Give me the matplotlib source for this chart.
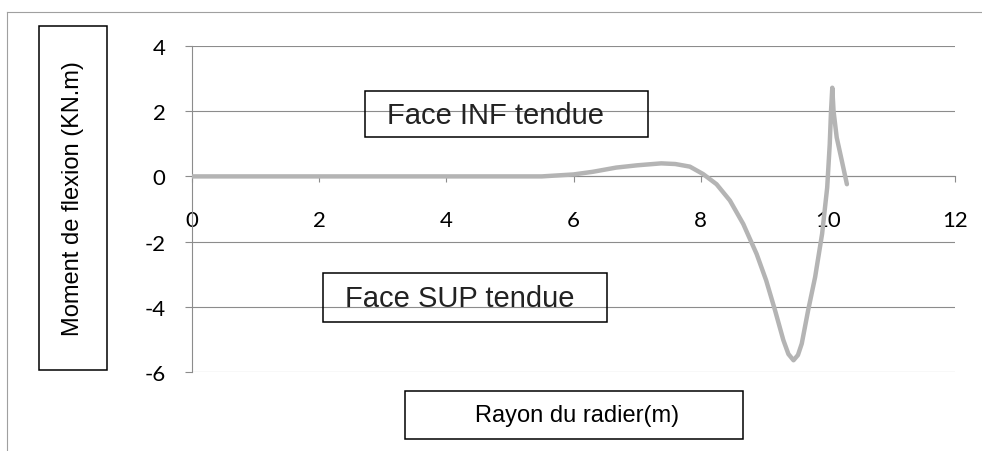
import matplotlib
matplotlib.use("Agg")
import matplotlib.pyplot as plt
from matplotlib.patches import Rectangle
from matplotlib.lines import Line2D

plt.rcParams["axes.unicode_minus"] = False

# Moment de flexion le long du rayon du radier
rayon = [0, 1, 2, 3, 4, 5, 5.5, 6.0, 6.3, 6.67, 7.0, 7.38, 7.6, 7.83, 8.04,
         8.25, 8.46, 8.67, 8.88, 9.03, 9.17, 9.30, 9.38, 9.46, 9.53, 9.59,
         9.69, 9.80, 9.91, 9.99, 10.03, 10.05, 10.07, 10.09, 10.14, 10.22, 10.30]
moment = [0, 0, 0, 0, 0, 0, 0.0, 0.06, 0.14, 0.27, 0.34, 0.40, 0.38, 0.30, 0.07,
          -0.24, -0.74, -1.46, -2.38, -3.19, -4.11, -5.02, -5.45, -5.64, -5.48,
          -5.13, -4.11, -3.09, -1.76, -0.34, 0.99, 2.0, 2.72, 2.0, 1.19, 0.48, -0.24]

x_ticks = [0, 2, 4, 6, 8, 10, 12]
y_ticks = [4, 2, 0, -2, -4, -6]

W, H = 982, 452
fig = plt.figure(figsize=(W / 100, H / 100), dpi=100)
fig.patch.set_facecolor("white")

def px_box(x0, y0, x1, y1):
    return (x0 / W, 1 - y1 / H, (x1 - x0) / W, (y1 - y0) / H)

ax = fig.add_axes(px_box(192, 47, 955, 373))
ax.plot(rayon, moment, color="#b4b4b4", lw=3.2, solid_capstyle="round",
        solid_joinstyle="round", zorder=3)

ax.set_xlim(0, 12)
ax.set_ylim(-6, 4)
ax.set_xticks(x_ticks)
ax.set_yticks(y_ticks)
ax.yaxis.grid(True, color="#8c8c8c", lw=0.8)
ax.set_axisbelow(True)

for s in ["top", "right"]:
    ax.spines[s].set_visible(False)
ax.spines["bottom"].set_position(("data", 0))
ax.spines["bottom"].set_color("#8c8c8c")
ax.spines["left"].set_color("#8c8c8c")
ax.spines["bottom"].set_linewidth(0.8)
ax.spines["left"].set_linewidth(0.8)

ax.tick_params(axis="y", direction="out", length=5, color="#8c8c8c", pad=14,
               labelsize=16)
ax.tick_params(axis="x", direction="out", length=4, color="#8c8c8c", pad=20,
               labelsize=16)
for lab in ax.get_xticklabels() + ax.get_yticklabels():
    lab.set_fontfamily("Lato")

# cadre du graphique
fig.add_artist(Line2D([7 / W, 7 / W], [0, 1 - 13 / H], transform=fig.transFigure,
                      color="#a0a0a0", lw=0.8))
fig.add_artist(Line2D([7 / W, 1], [1 - 13 / H, 1 - 13 / H], transform=fig.transFigure,
                      color="#a0a0a0", lw=0.8))

def boite(x0, y0, x1, y1):
    fig.add_artist(Rectangle(px_box(x0, y0, x1, y1)[:2], (x1 - x0) / W, (y1 - y0) / H,
                             transform=fig.transFigure, fill=False, ec="black", lw=1.1))

boite(39, 27, 107, 371)
fig.text(73 / W, 1 - 199 / H, "Moment de flexion (KN.m)", rotation=90,
         ha="center", va="center", fontsize=17, family="Liberation Sans")

boite(365, 92, 648, 138)
fig.text(387 / W, 1 - 116 / H, "Face INF tendue", ha="left", va="center",
         fontsize=21, family="Liberation Sans", color="#222222")

boite(323, 274, 607, 323)
fig.text(345 / W, 1 - 299 / H, "Face SUP tendue", ha="left", va="center",
         fontsize=21, family="Liberation Sans", color="#222222")

boite(405, 392, 743, 440)
fig.text(577 / W, 1 - 416 / H, "Rayon du radier(m)", ha="center", va="center",
         fontsize=17, family="Liberation Sans")

fig.savefig("out.png", dpi=100)
